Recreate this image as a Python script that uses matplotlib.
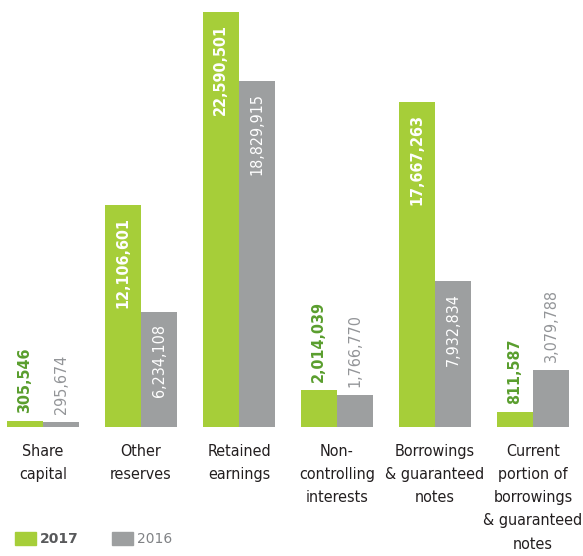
import matplotlib
matplotlib.use('Agg')
import matplotlib.pyplot as plt
from matplotlib.patches import Patch
import numpy as np

categories = ['Share\ncapital', 'Other\nreserves', 'Retained\nearnings',
              'Non-\ncontrolling\ninterests', 'Borrowings\n& guaranteed\nnotes',
              'Current\nportion of\nborrowings\n& guaranteed\nnotes']
values_2017 = [305546, 12106601, 22590501, 2014039, 17667263, 811587]
values_2016 = [295674, 6234108, 18829915, 1766770, 7932834, 3079788]

green = '#a6ce39'
grey = '#9d9fa0'
green_text = '#5a9e2e'
grey_text = '#939598'
dark = '#231f20'

fig = plt.figure(figsize=(5.83, 5.56), dpi=100)
W, H = 583, 556
# baseline sits 129 px above the bottom edge
ax = fig.add_axes([0, 129 / H, 1, (H - 129) / H])

x = np.arange(len(categories))
w = 0.372
ax.bar(x - w / 2, values_2017, w, color=green, linewidth=0)
ax.bar(x + w / 2, values_2016, w, color=grey, linewidth=0)

ax.set_xlim(-43 / 98, (W - 43) / 98)
top = 22590501 * 427 / 415
ax.set_ylim(0, top)
ax.axis('off')

px = top / 427  # data units per pixel
inside_min = 5e6
vfont = dict(fontsize=11.5, family='DejaVu Sans', fontstretch='condensed')

def label(xpos, v, bold, outer_color):
    txt = f'{v:,}'
    weight = 'bold' if bold else 'normal'
    if v >= inside_min:
        ax.text(xpos, v - 12 * px, txt, rotation=90, ha='center', va='top',
                color='white', fontweight=weight, **vfont)
    else:
        ax.text(xpos, v + 8 * px, txt, rotation=90, ha='center', va='bottom',
                color=outer_color, fontweight=weight, **vfont)

for i in range(len(categories)):
    label(x[i] - w / 2, values_2017[i], True, green_text)
    label(x[i] + w / 2, values_2016[i], False, grey_text)
    ax.text(x[i], -17 * px, categories[i], ha='center', va='top', fontsize=11.5,
            family='DejaVu Sans', fontstretch='condensed', color=dark,
            linespacing=1.68, clip_on=False)

handles = [Patch(color=green), Patch(color=grey)]
leg = fig.legend(handles, ['2017', '2016'], ncol=2, frameon=False,
                 loc='lower left', bbox_to_anchor=(15 / W, 10 / H),
                 borderaxespad=0, borderpad=0,
                 handlelength=1.5, handleheight=1.08, handletextpad=0.3,
                 columnspacing=2.4, fontsize=10)
t17, t16 = leg.get_texts()
t17.set_fontweight('bold')
t17.set_color('#58595b')
t16.set_color('#808285')

fig.savefig('out.png', dpi=100)
